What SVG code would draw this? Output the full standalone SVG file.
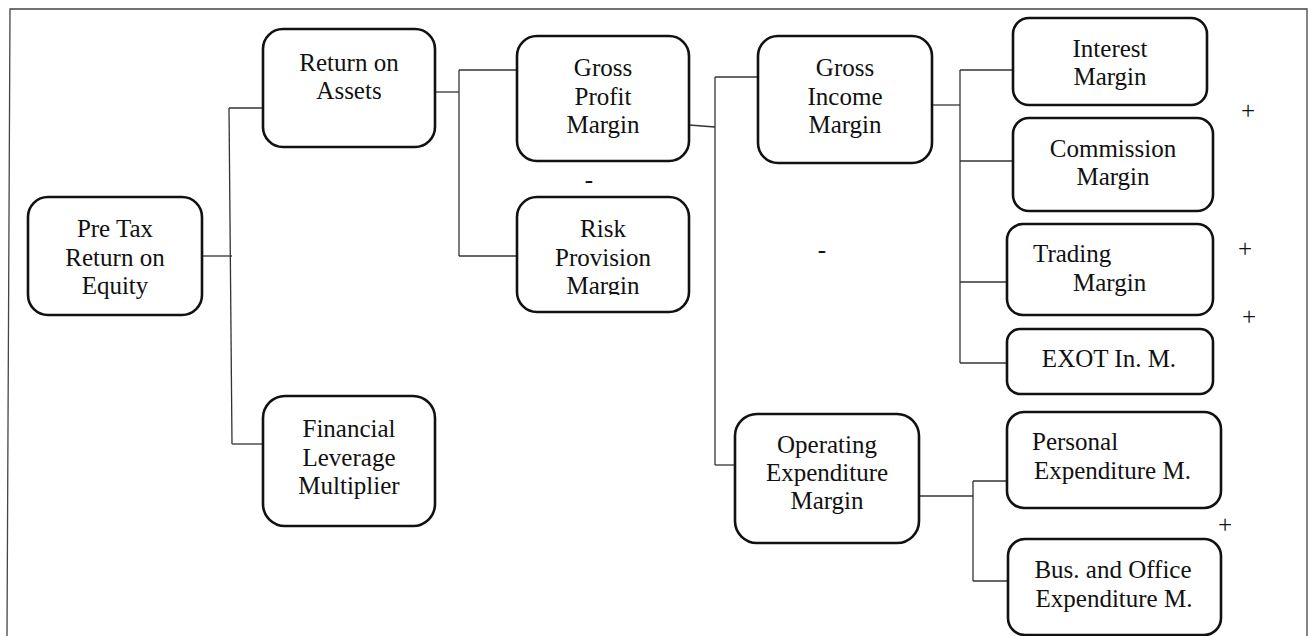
<svg xmlns="http://www.w3.org/2000/svg" width="1309" height="636" viewBox="0 0 1309 636">
<style>
.box{fill:#fff;stroke:#111;stroke-width:2.6}
.t{font-family:"Liberation Serif","Times New Roman",serif;font-size:25px;fill:#111;text-anchor:middle}
.s{text-anchor:start}
.c{fill:none;stroke:#333;stroke-width:1.3}
</style>
<defs>
<clipPath id="riskClip"><rect x="517" y="190" width="172" height="105"/></clipPath>
</defs>
<rect width="1309" height="636" fill="#fff"/>
<g id="frame" class="c">
<polyline points="7,636 10,9 1307,9 1307,636" style="stroke:#444"/>
</g>
<g id="connectors" class="c">
<path d="M202,256 H232"/>
<path d="M229,108 L232,444"/>
<path d="M229,108 H263"/>
<path d="M232,444 H263"/>
<path d="M435,92 H459"/>
<path d="M459,70 V256"/>
<path d="M459,70 H517"/>
<path d="M459,256 H517"/>
<path d="M689,125 L715,127"/>
<path d="M715,77 V465"/>
<path d="M715,77 H758"/>
<path d="M715,465 H735"/>
<path d="M932,105 H960"/>
<path d="M960,70 V363"/>
<path d="M960,70 H1013"/>
<path d="M960,161 H1013"/>
<path d="M960,282 H1007"/>
<path d="M960,363 H1007"/>
<path d="M919,496 H973"/>
<path d="M973,481 V581"/>
<path d="M973,481 H1007"/>
<path d="M973,581 H1008"/>
</g>
<g id="n_pretax">
<rect class="box" x="28" y="197" width="174" height="118" rx="20"/>
<text class="t" x="115" y="237">Pre Tax</text>
<text class="t" x="115" y="266">Return on</text>
<text class="t" x="115" y="294">Equity</text>
</g>
<g id="n_roa">
<rect class="box" x="263" y="29" width="172" height="118" rx="20"/>
<text class="t" x="349" y="71">Return on</text>
<text class="t" x="349" y="99">Assets</text>
</g>
<g id="n_flm">
<rect class="box" x="263" y="396" width="172" height="130" rx="22"/>
<text class="t" x="349" y="437">Financial</text>
<text class="t" x="349" y="466">Leverage</text>
<text class="t" x="349" y="494">Multiplier</text>
</g>
<g id="n_gpm">
<rect class="box" x="517" y="36" width="172" height="125" rx="20"/>
<text class="t" x="603" y="76">Gross</text>
<text class="t" x="603" y="105">Profit</text>
<text class="t" x="603" y="133">Margin</text>
</g>
<g id="n_rpm">
<rect class="box" x="517" y="197" width="172" height="115" rx="20"/>
<text class="t" x="603" y="237">Risk</text>
<text class="t" x="603" y="266">Provision</text>
<text class="t" x="603" y="294" clip-path="url(#riskClip)">Margin</text>
</g>
<g id="n_gim">
<rect class="box" x="758" y="36" width="174" height="127" rx="20"/>
<text class="t" x="845" y="76">Gross</text>
<text class="t" x="845" y="105">Income</text>
<text class="t" x="845" y="133">Margin</text>
</g>
<g id="n_opex">
<rect class="box" x="735" y="414" width="184" height="129" rx="22"/>
<text class="t" x="827" y="453">Operating</text>
<text class="t" x="827" y="481">Expenditure</text>
<text class="t" x="827" y="509">Margin</text>
</g>
<g id="n_interest">
<rect class="box" x="1013" y="18" width="194" height="87" rx="16"/>
<text class="t" x="1110" y="57">Interest</text>
<text class="t" x="1110" y="85">Margin</text>
</g>
<g id="n_commission">
<rect class="box" x="1013" y="118" width="200" height="93" rx="16"/>
<text class="t" x="1113" y="157">Commission</text>
<text class="t" x="1113" y="185">Margin</text>
</g>
<g id="n_trading">
<rect class="box" x="1007" y="224" width="206" height="91" rx="16"/>
<text class="t s" x="1033" y="262">Trading</text>
<text class="t s" x="1073" y="291">Margin</text>
</g>
<g id="n_exot">
<rect class="box" x="1007" y="329" width="206" height="65" rx="13"/>
<text class="t" x="1109" y="367">EXOT In. M.</text>
</g>
<g id="n_personal">
<rect class="box" x="1007" y="412" width="214" height="96" rx="17"/>
<text class="t s" x="1032" y="450">Personal</text>
<text class="t s" x="1034" y="479">Expenditure M.</text>
</g>
<g id="n_bus">
<rect class="box" x="1008" y="539" width="213" height="96" rx="17"/>
<text class="t" x="1113" y="578">Bus. and Office</text>
<text class="t" x="1114" y="607">Expenditure M.</text>
</g>
<g id="signs">
<text class="t" x="589" y="188">-</text>
<text class="t" x="822" y="258">-</text>
<text class="t" x="1248" y="119">+</text>
<text class="t" x="1245" y="257">+</text>
<text class="t" x="1249" y="325">+</text>
<text class="t" x="1225" y="533">+</text>
</g>
</svg>
